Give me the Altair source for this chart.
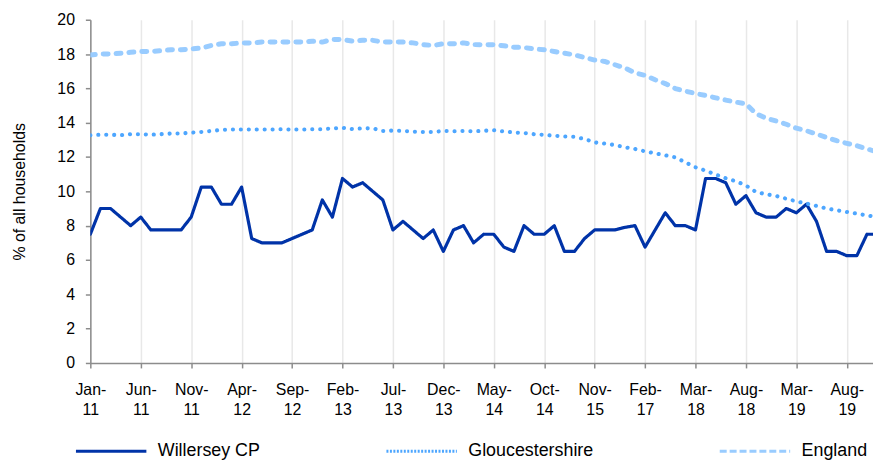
import json
import altair as alt
import pandas as pd

series_names = ["Willersey CP", "Gloucestershire", "England"]
series_colors = ["#0033A8", "#4DA6FF", "#99CCFF"]

tick_labels = ["Jan-11", "Jun-11", "Nov-11", "Apr-12", "Sep-12", "Feb-13", "Jul-13", "Dec-13",
               "May-14", "Oct-14", "Nov-15", "Feb-17", "Mar-18", "Aug-18", "Mar-19", "Aug-19"]

willersey = [7.5, 9.0, 9.0, 8.5, 8.0, 8.5, 7.75, 7.75, 7.75, 7.75,
             8.5, 10.25, 10.25, 9.25, 9.25, 10.25, 7.25, 7.0, 7.0, 7.0,
             7.25, 7.5, 7.75, 9.5, 8.5, 10.75, 10.25, 10.5, 10.0, 9.5,
             7.75, 8.25, 7.75, 7.25, 7.75, 6.5, 7.75, 8.0, 7.0, 7.5,
             7.5, 6.75, 6.5, 8.0, 7.5, 7.5, 8.0, 6.5, 6.5, 7.25,
             7.75, 7.75, 7.75, 7.9, 8.0, 6.75, 7.75, 8.75, 8.0, 8.0,
             7.75, 10.75, 10.75, 10.5, 9.25, 9.75, 8.75, 8.5, 8.5, 9.0,
             8.75, 9.25, 8.25, 6.5, 6.5, 6.25, 6.25, 7.5, 7.5]

gloucestershire = [13.27, 13.3, 13.3, 13.27, 13.33, 13.33, 13.3, 13.33, 13.37, 13.37,
                   13.42, 13.46, 13.52, 13.58, 13.6, 13.6, 13.6, 13.6, 13.6, 13.62,
                   13.6, 13.6, 13.62, 13.62, 13.67, 13.7, 13.63, 13.67, 13.67, 13.52,
                   13.54, 13.52, 13.48, 13.46, 13.46, 13.52, 13.5, 13.52, 13.5, 13.53,
                   13.56, 13.49, 13.43, 13.4, 13.33, 13.29, 13.24, 13.2, 13.18, 13.05,
                   12.85, 12.78, 12.7, 12.57, 12.47, 12.33, 12.22, 12.1, 11.98, 11.69,
                   11.4, 11.21, 10.98, 10.76, 10.59, 10.34, 9.96, 9.83, 9.73, 9.57,
                   9.42, 9.29, 9.15, 9.0, 8.9, 8.8, 8.7, 8.6, 8.5]

england = [17.95, 18.0, 18.0, 18.05, 18.1, 18.15, 18.15, 18.2, 18.25, 18.25,
           18.3, 18.35, 18.5, 18.6, 18.6, 18.65, 18.65, 18.7, 18.7, 18.7,
           18.7, 18.7, 18.75, 18.7, 18.85, 18.85, 18.75, 18.8, 18.8, 18.7,
           18.7, 18.7, 18.65, 18.55, 18.5, 18.6, 18.6, 18.65, 18.55, 18.54,
           18.54, 18.48, 18.4, 18.38, 18.3, 18.25, 18.15, 18.05, 17.95, 17.8,
           17.65, 17.57, 17.38, 17.19, 16.9, 16.76, 16.5, 16.28, 15.99, 15.84,
           15.7, 15.59, 15.45, 15.32, 15.2, 15.1, 14.53, 14.26, 14.1, 13.91,
           13.68, 13.53, 13.34, 13.14, 12.95, 12.8, 12.66, 12.47, 12.3]

rows = []
for name, vals in zip(series_names, [willersey, gloucestershire, england]):
    for i, v in enumerate(vals):
        rows.append({"i": i, "value": v, "series": name})
df = pd.DataFrame(rows)

label_pairs = [[t.split("-")[0] + "-", t.split("-")[1]] for t in tick_labels]
label_expr = f"{json.dumps(label_pairs)}[round(datum.value / 5)]"

FONT = "Liberation Sans"
GREY = "#8C8C8C"

x_axis = alt.Axis(
    values=list(range(0, 5 * len(tick_labels), 5)),
    labelExpr=label_expr,
    title=None,
    grid=True,
    gridColor="#E8E8E8",
    gridWidth=1.5,
    domainColor=GREY,
    domainWidth=1.5,
    tickColor=GREY,
    tickWidth=1.5,
    tickSize=5,
    labelFontSize=16,
    labelColor="black",
    labelFont=FONT,
    labelAngle=0,
    labelAlign="center",
    labelBaseline="top",
    labelLineHeight=20,
    labelPadding=14,
    labelFlush=False,
    labelOverlap=False,
)

y_axis = alt.Axis(
    values=list(range(0, 21, 2)),
    title="% of all households",
    titleFontSize=16,
    titleFontWeight="normal",
    titleColor="black",
    titleFont=FONT,
    titleAngle=270,
    titleAlign="center",
    titleBaseline="middle",
    titleX=-71,
    titleY=173,
    grid=False,
    domainColor=GREY,
    domainWidth=1.5,
    tickColor=GREY,
    tickWidth=1.5,
    tickSize=5,
    labelFontSize=16,
    labelColor="black",
    labelFont=FONT,
    labelPadding=11,
    labelOverlap=False,
    labelFlush=False,
)

x_enc = alt.X("i:Q", scale=alt.Scale(domain=[0, 77.6], nice=False, zero=False), axis=x_axis)
y_enc = alt.Y("value:Q", scale=alt.Scale(domain=[0, 20], nice=False), axis=y_axis)

lines = alt.Chart(df).mark_line(strokeCap="round", strokeJoin="round", clip=True).encode(
    x=x_enc,
    y=y_enc,
    color=alt.Color("series:N", scale=alt.Scale(domain=series_names, range=series_colors), legend=None),
    strokeDash=alt.StrokeDash("series:N",
                              scale=alt.Scale(domain=series_names, range=[[1, 0], [0.1, 7.9], [5, 8]]),
                              legend=None),
    strokeWidth=alt.StrokeWidth("series:N",
                                scale=alt.Scale(domain=series_names, range=[3.2, 5, 5.2]),
                                legend=None),
    order=alt.Order("i:Q"),
)

legend_def = alt.Legend(
    title=None,
    orient="none",
    legendX=-16,
    legendY=398,
    direction="horizontal",
    columns=3,
    symbolType="stroke",
    symbolSize=5041,
    symbolStrokeWidth=2.8,
    labelFontSize=18,
    labelColor="black",
    labelFont=FONT,
    labelOffset=10,
    labelLimit=300,
    gridAlign="each",
    columnPadding=120,
)

legend_layer = alt.Chart(df).mark_line().transform_filter("false").encode(
    x=x_enc,
    y=y_enc,
    color=alt.Color("series:N", scale=alt.Scale(domain=series_names, range=series_colors), legend=legend_def),
    strokeDash=alt.StrokeDash("series:N",
                              scale=alt.Scale(domain=series_names, range=[[1, 0], [2, 1.5], [7, 3]]),
                              legend=legend_def),
)

chart = alt.layer(lines, legend_layer).resolve_scale(
    color="independent", strokeDash="independent"
).resolve_legend(
    color="independent", strokeDash="independent"
).properties(
    width=789,
    height=346,
    autosize=alt.AutoSizeParams(type="none"),
    padding={"left": 83, "top": 10, "right": 0, "bottom": 96},
).configure(font=FONT).configure_view(stroke=None)

chart.save("out.html", embed_options={"renderer": "svg", "actions": False})
